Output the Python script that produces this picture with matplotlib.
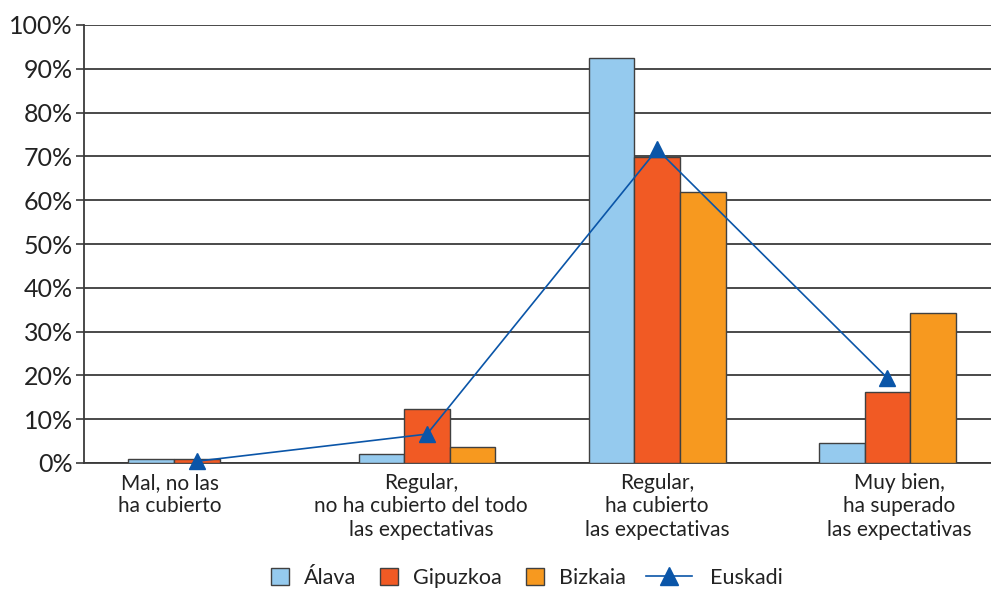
import matplotlib
matplotlib.use("Agg")
import matplotlib.pyplot as plt
import numpy as np
from matplotlib.patches import Patch
from matplotlib.lines import Line2D

plt.rcParams['font.family'] = ['Lato', 'DejaVu Sans']

categories = ["Mal, no las\nha cubierto",
              "Regular,\nno ha cubierto del todo\nlas expectativas",
              "Regular,\nha cubierto\nlas expectativas",
              "Muy bien,\nha superado\nlas expectativas"]
alava = [0.9, 2.1, 92.4, 4.6]
gipuzkoa = [0.9, 12.3, 69.9, 16.2]
bizkaia = [0.0, 3.6, 61.8, 34.2]
euskadi = [0.4, 6.6, 71.6, 19.4]
yticks = [0, 10, 20, 30, 40, 50, 60, 70, 80, 90, 100]
ytick_labels = [f"{v}%" for v in yticks]
series_names = ["Álava", "Gipuzkoa", "Bizkaia", "Euskadi"]

# layout: small horizontal offsets of category labels as in the original graphic
label_shift = [-0.117, -0.026, 0.0, 0.052]

c_alava = "#95CAEE"
c_gip = "#F15A24"
c_biz = "#F7991F"
c_eus = "#0A55A8"
edge = "#404040"
grid_c = "#3a3a3a"
txt_c = "#222222"

W, H = 991, 589
fig = plt.figure(figsize=(W/100, H/100), dpi=100)
ax = fig.add_axes([84/W, 1-463/H, 1-84/W, (463-25)/H])

x = np.arange(len(categories))
w = 0.198
ax.bar(x - w, alava, w, color=c_alava, edgecolor=edge, linewidth=1, zorder=3)
ax.bar(x, gipuzkoa, w, color=c_gip, edgecolor=edge, linewidth=1, zorder=3)
ax.bar(x + w, bizkaia, w, color=c_biz, edgecolor=edge, linewidth=1, zorder=3)
ax.plot(x, euskadi, color=c_eus, lw=1.2, marker='^', markersize=12, zorder=4, clip_on=False)

ax.set_xlim(-0.49, 3.45)
ax.set_ylim(0, 100)
ax.set_yticks(yticks)
ax.set_yticklabels(ytick_labels, fontsize=18, color=txt_c)
ax.yaxis.grid(True, color=grid_c, lw=1.3, zorder=0)
ax.set_axisbelow(True)
ax.tick_params(axis='y', length=6, width=1.2, color=grid_c, pad=2)
ax.set_xticks(x + np.array(label_shift))
ax.set_xticklabels(categories, fontsize=15, color=txt_c, linespacing=1.22)
ax.tick_params(axis='x', length=0, pad=7)
for s in ['top', 'right']:
    ax.spines[s].set_visible(False)
for s in ['left', 'bottom']:
    ax.spines[s].set_color(grid_c)
    ax.spines[s].set_linewidth(1.3)

fs = 15.5
px = 72 / 100 / fs  # one pixel in font-size units
leg_y = 1 - 578/H

patch_handles = [Patch(facecolor=c_alava, edgecolor=edge, lw=1),
                 Patch(facecolor=c_gip, edgecolor=edge, lw=1),
                 Patch(facecolor=c_biz, edgecolor=edge, lw=1)]
leg1 = fig.legend(patch_handles, series_names[:3], loc='center left',
                  bbox_to_anchor=(284/W, leg_y), ncol=3, frameon=False,
                  fontsize=fs, handlelength=18*px, handleheight=18*px,
                  handletextpad=15*px, columnspacing=24*px,
                  borderpad=0, borderaxespad=0)
line_handle = [Line2D([0, 1], [0, 0], color=c_eus, lw=1.2, marker='^', markersize=13,
                      markevery=[1])]
leg2 = fig.legend(line_handle, series_names[3:], loc='center left',
                  bbox_to_anchor=(642/W, leg_y), frameon=False,
                  fontsize=fs, handlelength=46*px, handletextpad=19*px,
                  borderpad=0, borderaxespad=0)
for lg in (leg1, leg2):
    for t in lg.get_texts():
        t.set_color(txt_c)

# place the two legend parts side by side, centred like the original
fig.canvas.draw()
r = fig.canvas.get_renderer()
w1 = leg1.get_window_extent(r).width
w2 = leg2.get_window_extent(r).width
gap = 20
total = w1 + gap + w2
start = 527 - total / 2
leg1.set_bbox_to_anchor((start / W, leg_y), transform=fig.transFigure)
leg2.set_bbox_to_anchor(((start + w1 + gap) / W, leg_y), transform=fig.transFigure)

fig.savefig("out.png", dpi=100)
